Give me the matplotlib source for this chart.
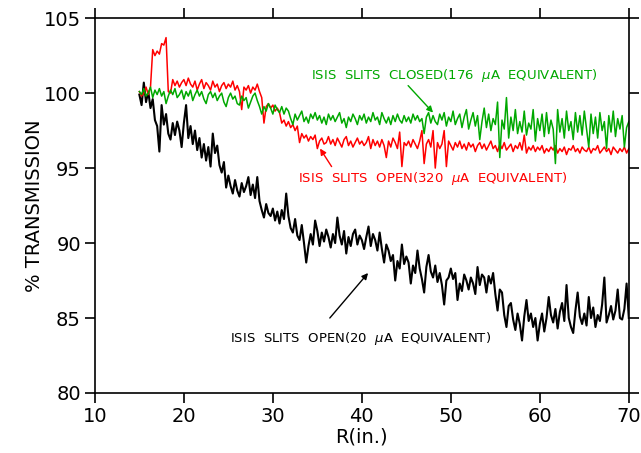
import matplotlib
matplotlib.use('Agg')
import matplotlib.pyplot as plt
import numpy as np

# ---------------------------------------------------------------------------
# Data (read off the reference, R sampled every 0.25 in. from 15 to 70)
# ---------------------------------------------------------------------------
R_START, R_STEP = 15.0, 0.25

open_20 = [
    99.9, 99.2, 100.7, 99.4, 100.1, 99.0, 99.6, 98.2, 97.8, 96.1,
    99.2, 97.9, 98.6, 97.3, 96.9, 98.0, 97.2, 98.1, 97.5, 96.4,
    98.0, 99.2, 97.0, 97.8, 96.6, 97.5, 96.2, 97.0, 95.7, 96.6,
    95.5, 96.4, 95.1, 97.3, 96.0, 96.5, 95.2, 94.7, 95.4, 93.7,
    94.5, 93.8, 93.3, 94.2, 93.5, 93.1, 94.0, 93.4, 93.8, 94.4,
    93.2, 93.9, 93.0, 94.4, 92.8, 92.2, 91.7, 92.6, 92.0, 91.8,
    92.3, 91.5, 92.1, 91.3, 92.2, 91.6, 93.3, 91.8, 91.0, 90.7,
    91.6, 90.5, 90.2, 91.2, 90.0, 88.7, 89.8, 90.6, 89.9, 91.5,
    90.8, 89.8, 90.7, 90.1, 90.9, 90.4, 89.7, 90.6, 90.0, 91.7,
    90.5, 89.9, 90.8, 89.3, 90.4, 89.8, 90.6, 90.9, 89.9, 90.5,
    90.2, 89.6, 90.4, 91.1, 89.8, 90.6, 90.2, 89.5, 90.7, 89.6,
    88.7, 89.9, 89.5, 88.8, 89.2, 87.5, 88.8, 88.3, 89.9, 88.6,
    89.1, 88.7, 87.3, 88.5, 88.0, 89.5, 88.3, 87.6, 86.7, 88.4,
    89.2, 88.1, 87.7, 88.5, 87.4, 88.0, 87.2, 85.9, 87.5, 87.7,
    88.3, 87.6, 88.0, 86.2, 87.3, 86.8, 87.9, 87.5, 86.9, 87.7,
    87.3, 86.6, 88.4, 87.2, 87.9, 87.7, 86.7, 87.8, 87.3, 88.0,
    86.6, 85.5, 86.9, 86.7, 85.2, 84.4, 85.8, 86.0, 84.9, 84.2,
    85.3, 84.6, 83.5, 85.1, 86.2, 84.8, 85.3, 84.4, 85.0, 83.5,
    84.6, 85.3, 84.1, 85.0, 86.4, 85.2, 84.7, 85.6, 84.3, 85.4,
    86.0, 84.8, 87.2, 85.0, 84.4, 84.0, 85.5, 86.7, 85.1, 84.6,
    85.3, 84.5, 86.4, 85.0, 85.7, 84.4, 85.2, 84.8, 85.9, 87.7,
    84.7, 85.2, 85.8, 84.9, 85.5, 86.9, 85.0, 84.9, 85.6, 87.3,
    85.0,
]

open_320 = [
    100.1, 99.8, 100.0, 100.4, 99.9, 100.4, 102.9, 102.5, 102.8, 102.6,
    103.3, 103.2, 103.7, 100.1, 100.0, 100.9, 100.5, 100.8, 100.4, 100.7,
    100.9, 100.5, 101.0, 100.6, 100.4, 100.8, 100.2, 100.6, 100.9, 100.3,
    100.7, 100.5, 100.2, 100.8, 100.4, 100.6, 100.1, 100.5, 100.7, 100.3,
    100.6, 100.4, 100.8, 100.2, 100.5, 100.1, 98.9, 100.4, 100.2, 100.5,
    100.0, 100.4, 100.2, 100.6, 100.1, 99.7, 98.0, 99.1, 99.3, 99.0,
    99.2, 98.8, 99.0, 98.7, 98.0, 98.2, 97.8, 98.1, 97.7, 97.9,
    97.5, 97.8, 96.7, 97.3, 97.0, 97.2, 96.8, 97.1, 96.9, 97.2,
    96.3, 96.8, 97.0, 96.6, 96.7, 97.1, 96.6, 96.9, 96.5, 97.0,
    96.7, 96.4, 96.9, 97.1, 96.5, 96.8, 96.4, 96.7, 97.0, 96.6,
    96.8, 96.5, 96.7, 97.1, 96.3, 96.9, 96.5, 96.8, 96.4, 96.9,
    96.5, 95.7, 96.8, 96.4, 97.0, 96.7, 96.3, 97.4, 95.1, 96.7,
    96.5, 96.8, 96.4, 96.9, 96.6, 96.3, 96.8, 97.5, 95.3, 96.6,
    96.9, 96.4, 97.5, 95.0, 96.7, 96.3, 96.6, 97.5, 95.1, 96.8,
    96.5, 96.2, 96.7, 96.4, 96.8, 96.3, 96.6, 96.2, 96.7, 96.4,
    96.6, 96.1, 96.5, 96.7, 96.3, 96.6, 96.2, 96.5, 96.8, 96.3,
    96.5, 96.1, 96.6, 96.3, 96.7, 96.2, 96.4, 96.6, 96.1, 96.5,
    96.3, 96.7, 96.2, 97.2, 96.0, 96.4, 96.2, 96.5, 96.1, 96.4,
    96.2, 96.5, 96.0, 96.3, 96.1, 96.4, 96.2, 96.5, 96.0, 96.3,
    96.1, 96.4, 95.9, 96.3, 96.2, 96.5, 96.1, 96.3, 96.0, 96.4,
    96.2, 96.1, 96.4, 96.0, 96.3, 96.2, 96.5, 96.0, 96.2, 96.4,
    96.1, 96.3, 95.9, 96.4, 96.2, 96.0, 96.3, 96.1, 96.4, 96.0,
    96.3,
]

closed_176 = [
    100.1, 99.9, 100.3, 99.8, 100.0, 100.4, 99.7, 100.2, 99.9, 100.3,
    99.8, 100.1, 99.3, 99.8, 100.2, 99.9, 100.3, 99.7, 99.9, 100.2,
    99.6, 100.1, 99.8, 100.2, 99.5, 99.9, 100.2, 99.8, 100.1, 99.6,
    99.3, 99.9, 100.1, 99.7, 100.0, 99.5, 99.8, 100.0, 99.4, 99.1,
    99.7, 100.0, 99.6, 99.8, 99.3, 99.2, 99.8, 99.5, 99.7, 99.0,
    99.4, 99.8, 100.0, 99.5, 99.1, 98.6, 99.1, 98.8, 99.3, 99.0,
    98.6, 99.2, 98.9, 98.7, 99.1, 98.6, 99.0, 98.8, 98.3, 97.9,
    98.6, 98.2, 98.5, 98.8, 98.1, 98.4, 98.0, 98.6, 98.3, 98.7,
    98.2, 98.5, 98.0, 98.4, 97.9, 98.6, 98.2, 98.5, 98.1, 98.4,
    98.7, 98.0, 98.3, 97.7, 98.4, 98.1, 98.6, 98.3, 97.9, 98.5,
    98.2, 98.6, 98.0, 98.4, 98.1, 98.7, 98.2, 98.4, 97.9, 98.7,
    98.3, 98.0, 98.4, 97.9, 98.5, 98.1, 98.6, 98.2, 98.0, 98.5,
    98.1, 98.4, 98.0, 98.6, 98.2, 98.5, 98.1, 98.3, 97.3, 98.4,
    98.7, 98.0, 98.5, 98.1, 97.9, 98.6, 98.2, 98.7, 97.8, 98.4,
    98.1, 98.8, 97.9, 98.3, 98.6, 97.7, 98.4, 98.9, 97.6, 98.2,
    98.7, 97.8, 98.5, 96.9, 98.1, 99.0, 97.7, 98.6, 97.5, 98.3,
    97.9, 99.4, 95.7, 98.2, 97.6, 99.7, 97.0, 98.4, 97.5, 98.9,
    97.3, 98.1, 97.4, 98.8, 97.2, 98.0, 97.6, 98.9, 96.8, 98.3,
    97.5, 98.6, 97.1, 98.7, 97.3, 98.2, 97.6, 95.3, 98.9, 97.4,
    98.3, 97.0, 98.8, 97.5, 98.1, 96.9, 98.7, 97.4, 98.5, 97.2,
    98.8, 97.6, 96.4, 98.6, 97.3, 98.4, 97.0, 98.7, 97.5, 98.1,
    96.3, 98.5, 97.4, 98.8, 97.1, 98.3, 97.6, 98.5, 96.4, 97.7,
    98.1,
]

LABEL_CLOSED = r'ISIS  SLITS  CLOSED(176  $\mu$A  EQUIVALENT)'
LABEL_OPEN_320 = r'ISIS  SLITS  OPEN(320  $\mu$A  EQUIVALENT)'
LABEL_OPEN_20 = r'ISIS  SLITS  OPEN(20  $\mu$A  EQUIVALENT)'

# ---------------------------------------------------------------------------
# Style
# ---------------------------------------------------------------------------
RED = '#ff0000'
GREEN = '#00a800'
INK = '#000000'

plt.rcParams.update({
    'font.family': 'DejaVu Sans',
    'mathtext.fontset': 'dejavusans',
    'font.size': 14,
    'axes.linewidth': 1.2,
    'xtick.major.width': 1.2,
    'ytick.major.width': 1.2,
    'xtick.major.size': 7,
    'ytick.major.size': 7,
    'xtick.direction': 'out',
    'ytick.direction': 'out',
})


def main() -> None:
    fig = plt.figure(figsize=(6.41, 4.53), dpi=100)
    ax = fig.add_axes([0.148, 0.1325, 0.833, 0.8275])

    r = R_START + R_STEP * np.arange(len(open_20))

    ax.plot(r, open_20, color=INK, lw=1.5)
    ax.plot(r, open_320, color=RED, lw=1.1)
    ax.plot(r, closed_176, color=GREEN, lw=1.1)

    ax.set_xlim(10, 70)
    ax.set_ylim(80, 105)
    ax.set_xticks(range(10, 71, 10))
    ax.set_yticks(range(80, 106, 5))
    ax.tick_params(top=True, right=True, labelsize=14, pad=3)
    ax.set_xlabel('R(in.)', fontsize=14, labelpad=1)
    ax.set_ylabel('% TRANSMISSION', fontsize=14, labelpad=0)

    txt = dict(fontsize=9.5, ha='center', va='center')
    ax.text(50.4, 101.2, LABEL_CLOSED, color=GREEN, **txt)
    ax.text(48.0, 94.3, LABEL_OPEN_320, color=RED, **txt)
    ax.text(39.9, 83.6, LABEL_OPEN_20, color=INK, **txt)

    arrow = lambda c: {'arrowstyle': '-|>', 'color': c, 'lw': 1.0,
                       'mutation_scale': 9, 'shrinkA': 0, 'shrinkB': 0}
    ax.annotate('', xy=(48.0, 98.7), xytext=(45.2, 100.5), arrowprops=arrow(GREEN))
    ax.annotate('', xy=(35.3, 96.3), xytext=(36.6, 95.1), arrowprops=arrow(RED))
    ax.annotate('', xy=(40.7, 88.0), xytext=(36.4, 85.0), arrowprops=arrow(INK))

    fig.savefig('out.png', dpi=100)
    plt.close(fig)


if __name__ == '__main__':
    main()
